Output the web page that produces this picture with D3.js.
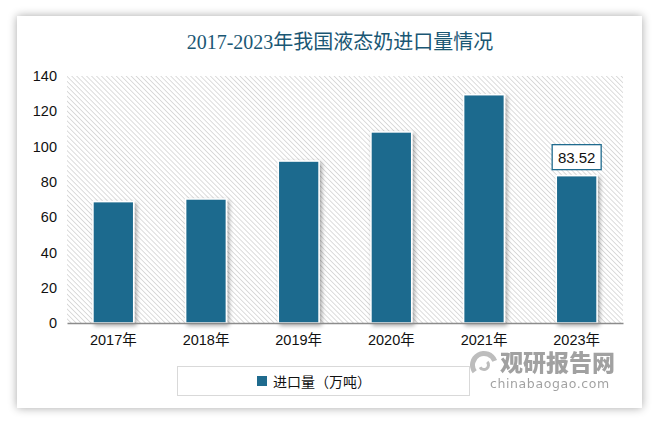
<!DOCTYPE html>
<html><head><meta charset="utf-8">
<script src="https://cdn.jsdelivr.net/npm/d3@7"></script>
<style>
body{margin:0;background:#fff;}
svg{display:block;}
</style></head>
<body>
<script>
const categories = ["2017年","2018年","2019年","2020年","2021年","2023年"];
const values = [68.8, 70.3, 91.8, 108.3, 129.4, 83.52];
const yTicks = [0,20,40,60,80,100,120,140];
const title = "2017-2023年我国液态奶进口量情况";
const seriesName = "进口量（万吨）";
const labelled = [{cat:"2023年", value:83.52, text:"83.52"}];

const W = 659, H = 424;
const svg = d3.select("body").append("svg").attr("width", W).attr("height", H);
const defs = svg.append("defs");

const sh = defs.append("filter").attr("id","cardShadow").attr("x","-10%").attr("y","-10%").attr("width","120%").attr("height","120%");
sh.append("feGaussianBlur").attr("in","SourceAlpha").attr("stdDeviation",5);
sh.append("feComponentTransfer").append("feFuncA").attr("type","linear").attr("slope",0.35);
const m1 = sh.append("feMerge"); m1.append("feMergeNode"); m1.append("feMergeNode").attr("in","SourceGraphic");

const bs = defs.append("filter").attr("id","barShadow").attr("x","-20%").attr("y","-10%").attr("width","150%").attr("height","130%");
bs.append("feGaussianBlur").attr("in","SourceAlpha").attr("stdDeviation",2);
bs.append("feOffset").attr("dx",2).attr("dy",2).attr("result","o");
bs.append("feComponentTransfer").append("feFuncA").attr("type","linear").attr("slope",0.35);
const m2 = bs.append("feMerge"); m2.append("feMergeNode"); m2.append("feMergeNode").attr("in","SourceGraphic");

const pat = defs.append("pattern").attr("id","hatch").attr("patternUnits","userSpaceOnUse")
  .attr("width",3.5).attr("height",3.5).attr("patternTransform","rotate(-45)");
pat.append("rect").attr("width",3.5).attr("height",3.5).attr("fill","#ffffff");
pat.append("line").attr("x1",0).attr("y1",0).attr("x2",0).attr("y2",3.5).attr("stroke","#cdcdcd").attr("stroke-width",1.4);

// card
svg.append("rect").attr("x",17).attr("y",16).attr("width",625).attr("height",392)
  .attr("fill","#fff").attr("filter","url(#cardShadow)");

// title
svg.append("text").attr("x",340).attr("y",49).attr("text-anchor","middle")
  .attr("font-family","'Liberation Serif','DejaVu Serif','Noto Sans CJK SC',serif")
  .attr("font-size",20).attr("fill","#1a5774").text(title);

const plot = {l:67, r:623, t:76, b:323};
const x = d3.scaleBand().domain(categories).range([plot.l, plot.r]).paddingInner(0.56).paddingOuter(0.28);
const y = d3.scaleLinear().domain([0,140]).range([plot.b, plot.t]);

svg.append("rect").attr("x",plot.l).attr("y",plot.t).attr("width",plot.r-plot.l).attr("height",plot.b-plot.t)
  .attr("fill","url(#hatch)");

// y axis
const ya = svg.append("g").attr("transform",`translate(${plot.l},0)`)
  .call(d3.axisLeft(y).tickValues(yTicks).tickSize(0).tickPadding(10));
ya.select(".domain").remove();
ya.selectAll("text").attr("font-family","'Liberation Sans','DejaVu Sans',sans-serif").attr("font-size",14.5).attr("fill","#111");

// bars
svg.append("g").selectAll("rect").data(categories).join("rect")
  .attr("x",d=>x(d)).attr("width",x.bandwidth())
  .attr("y",(d,i)=>y(values[i])).attr("height",(d,i)=>plot.b - y(values[i]))
  .attr("fill","#1f6b8e").attr("stroke","#fff").attr("stroke-width",1.5)
  .attr("filter","url(#barShadow)");

// x axis
const xa = svg.append("g").attr("transform",`translate(0,${plot.b})`)
  .call(d3.axisBottom(x).tickSize(0).tickPadding(12));
xa.select(".domain").attr("stroke","#8c8c8c").attr("stroke-width",1.3);
xa.selectAll("text").attr("font-family","'Liberation Sans','Noto Sans CJK SC',sans-serif").attr("font-size",14.5).attr("fill","#111");

// data label
labelled.forEach(l=>{
  const cx = x(l.cat) + x.bandwidth()/2;
  const by = y(l.value);
  svg.append("rect").attr("x",cx-24.5).attr("y",by-31).attr("width",49).attr("height",25)
    .attr("fill","#fff").attr("stroke","#1f6b8e").attr("stroke-width",1.3);
  svg.append("text").attr("x",cx).attr("y",by-13).attr("text-anchor","middle")
    .attr("font-family","'Liberation Sans','DejaVu Sans',sans-serif").attr("font-size",15).attr("fill","#111").text(l.text);
});

// legend
svg.append("rect").attr("x",177.5).attr("y",366.5).attr("width",292).attr("height",29)
  .attr("fill","#fff").attr("stroke","#d9d9d9").attr("stroke-width",1);
svg.append("rect").attr("x",257).attr("y",376).attr("width",10).attr("height",10).attr("fill","#1f6b8e");
svg.append("text").attr("x",273).attr("y",387).attr("font-family","'Noto Sans CJK SC',sans-serif")
  .attr("font-size",14).attr("fill","#111").text(seriesName);

// watermark
const wm = svg.append("g").attr("opacity",0.55);
wm.append("path").attr("d", d3.arc()({innerRadius:9, outerRadius:14, startAngle:-2.2, endAngle:1.2}))
  .attr("transform","translate(484,365)").attr("fill","#888");
wm.append("path").attr("d", d3.arc()({innerRadius:3, outerRadius:6, startAngle:0.8, endAngle:4.2}))
  .attr("transform","translate(484,365)").attr("fill","#888");
wm.append("text").attr("x",500).attr("y",371).attr("font-family","'Noto Sans CJK SC',sans-serif")
  .attr("font-weight",900).attr("font-size",23).attr("fill","#555").text("观研报告网");
wm.append("text").attr("x",490).attr("y",388).attr("font-family","'DejaVu Sans',sans-serif")
  .attr("font-size",12.5).attr("fill","#555").attr("letter-spacing",0.6).text("chinabaogao.com");
</script>
</body></html>
